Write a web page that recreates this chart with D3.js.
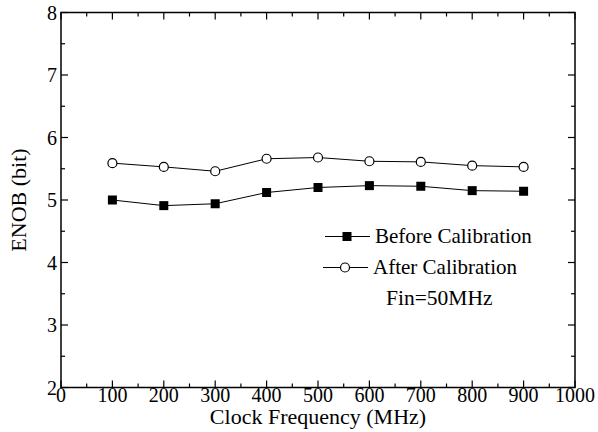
<!DOCTYPE html>
<html>
<head>
<meta charset="utf-8">
<script src="https://d3js.org/d3.v7.min.js"></script>
<style type="text/css">
body {margin:0;background:#fff;}
svg {display:block;font-family:"Liberation Serif","Times New Roman",serif;}
</style>
</head>
<body>
<svg id="chart" width="598" height="432"></svg>
<script type="text/javascript">
var freqs = [100, 200, 300, 400, 500, 600, 700, 800, 900];
var before = [5.00, 4.91, 4.94, 5.12, 5.20, 5.23, 5.22, 5.15, 5.14];
var after = [5.59, 5.53, 5.46, 5.66, 5.68, 5.62, 5.61, 5.55, 5.53];
var xTicks = [0, 100, 200, 300, 400, 500, 600, 700, 800, 900, 1000];
var yTicks = [2, 3, 4, 5, 6, 7, 8];

var pLeft = 61, pRight = 575, pTop = 12.5, pBottom = 387.5;
var svg = d3.select("#chart");

var x = d3.scaleLinear().domain([0, 1000]).range([pLeft, pRight]);
var y = d3.scaleLinear().domain([2, 8]).range([pBottom, pTop]);

// minor ticks
var xMinor = d3.range(50, 1000, 100);
var yMinor = d3.range(2.5, 8, 1);

var g = svg.append("g").attr("stroke", "#000").attr("stroke-width", 1.2);
// ticks on all four sides, pointing inward
xTicks.concat(xMinor).forEach(function(v) {
  var len = xTicks.indexOf(v) >= 0 ? 7 : 4;
  g.append("line").attr("x1", x(v)).attr("x2", x(v)).attr("y1", pBottom).attr("y2", pBottom - len);
  g.append("line").attr("x1", x(v)).attr("x2", x(v)).attr("y1", pTop).attr("y2", pTop + len);
});
yTicks.concat(yMinor).forEach(function(v) {
  var len = yTicks.indexOf(v) >= 0 ? 7 : 4;
  g.append("line").attr("x1", pLeft).attr("x2", pLeft + len).attr("y1", y(v)).attr("y2", y(v));
  g.append("line").attr("x1", pRight).attr("x2", pRight - len).attr("y1", y(v)).attr("y2", y(v));
});

svg.append("rect").attr("x", pLeft).attr("y", pTop)
  .attr("width", pRight - pLeft).attr("height", pBottom - pTop)
  .attr("fill", "none").attr("stroke", "#000").attr("stroke-width", 1.5);

// tick labels
svg.append("g").selectAll("text").data(xTicks).enter().append("text")
  .attr("x", function(d) { return x(d); }).attr("y", 402)
  .attr("text-anchor", "middle").attr("font-size", 20).text(function(d) { return d; });
svg.append("g").selectAll("text").data(yTicks).enter().append("text")
  .attr("x", 57).attr("y", function(d) { return y(d) + 7; })
  .attr("text-anchor", "end").attr("font-size", 20).text(function(d) { return d; });

svg.append("text").attr("x", x(500)).attr("y", 424).attr("text-anchor", "middle")
  .attr("font-size", 22).text("Clock Frequency (MHz)");
svg.append("text").attr("transform", "translate(26," + y(5) + ") rotate(-90)")
  .attr("text-anchor", "middle").attr("font-size", 22).text("ENOB (bit)");

var line = d3.line().x(function(d, i) { return x(freqs[i]); }).y(function(d) { return y(d); });

svg.append("path").datum(before).attr("d", line).attr("fill", "none").attr("stroke", "#000").attr("stroke-width", 1);
svg.append("path").datum(after).attr("d", line).attr("fill", "none").attr("stroke", "#000").attr("stroke-width", 1);

svg.append("g").selectAll("rect").data(before).enter().append("rect")
  .attr("x", function(d, i) { return x(freqs[i]) - 4.5; })
  .attr("y", function(d) { return y(d) - 4.5; })
  .attr("width", 9).attr("height", 9).attr("fill", "#000");
svg.append("g").selectAll("circle").data(after).enter().append("circle")
  .attr("cx", function(d, i) { return x(freqs[i]); })
  .attr("cy", function(d) { return y(d); })
  .attr("r", 4.5).attr("fill", "#fff").attr("stroke", "#000").attr("stroke-width", 1.2);

// legend
var lg = svg.append("g");
lg.append("line").attr("x1", 325).attr("x2", 370).attr("y1", 236.5).attr("y2", 236.5).attr("stroke", "#000");
lg.append("rect").attr("x", 342.5).attr("y", 232).attr("width", 9).attr("height", 9).attr("fill", "#000");
lg.append("text").attr("x", 375).attr("y", 243).attr("font-size", 21).text("Before Calibration");
lg.append("line").attr("x1", 323).attr("x2", 368).attr("y1", 267.5).attr("y2", 267.5).attr("stroke", "#000");
lg.append("circle").attr("cx", 345).attr("cy", 267.5).attr("r", 4.5).attr("fill", "#fff").attr("stroke", "#000").attr("stroke-width", 1.2);
lg.append("text").attr("x", 373).attr("y", 274).attr("font-size", 21).text("After Calibration");
lg.append("text").attr("x", 386).attr("y", 305).attr("font-size", 21.5).text("Fin=50MHz");
</script>
</body>
</html>
